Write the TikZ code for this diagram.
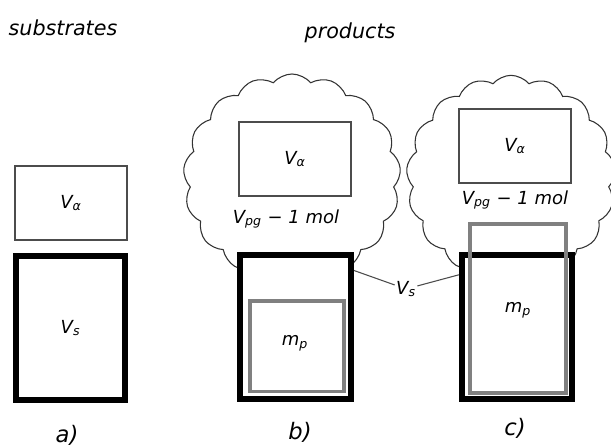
\documentclass[tikz,border=0pt]{standalone}
\usepackage{fontspec}
\setmainfont{DejaVu Sans}
\usetikzlibrary{shapes.symbols}

\tikzset{
  lbl/.style={font=\itshape\fontsize{13.5}{14}\selectfont},
  title/.style={font=\itshape\fontsize{15.5}{16}\selectfont},
  tag/.style={font=\itshape\fontsize{17}{18}\selectfont},
  gasbox/.style={draw=black!70, line width=0.9pt, fill=white,
    minimum width=84pt, minimum height=55.5pt, lbl},
  solidbox/.style={draw=black, line width=4.5pt, fill=white,
    minimum width=82.5pt, minimum height=108pt, lbl},
  prodbox/.style={draw=black!50, line width=2.5pt, outer sep=0pt, lbl},
  puff/.style={cloud, draw=black!80, line width=0.8pt, cloud puffs=17,
    cloud puff arc=100, fill=white},
  link/.style={draw=black!70, line width=0.8pt},
}

\begin{document}
\begin{tikzpicture}[x=0.75pt, y=-0.75pt]
\useasboundingbox (0,0) rectangle (611,448);

% headings
\node[title] (sub) at (63,28) {substrates};
\node[title] (prod) at (350,33) {products};

% a) substrates
\node[gasbox] (ga) at (71,203) {V\textsubscript{α}};
\node[solidbox, minimum width=81.75pt] (sa) at (70.5,328) {V\textsubscript{s}};
\node[tag] (ta) at (67,435) {a)};

% gas clouds behind the products
\node[puff, minimum width=163pt, minimum height=156pt] (cb) at (292,178) {};
\node[puff, minimum width=157pt, minimum height=154pt] (cc) at (511,178) {};

% b) product fits inside the solid
\node[gasbox] (gb) at (295,159) {V\textsubscript{α}};
\node[lbl] (nb) at (286,219) {V\textsubscript{pg} − 1 mol};
\node[solidbox, minimum width=83.25pt] (sb) at (295.5,327) {};
\node[prodbox, minimum width=70.5pt, minimum height=68pt] (pb) at (297,346.5) {};
\node[lbl] (mb) at (295,343) {m\textsubscript{p}};
\node[tag] (tb) at (300,432) {b)};

% c) product grows out of the solid
\node[gasbox] (gc) at (515,146) {V\textsubscript{α}};
\node[lbl] (nc) at (515,200) {V\textsubscript{pg} − 1 mol};
\node[prodbox, fill=white, minimum width=72pt, minimum height=126.75pt] (pc) at (518,308.5) {};
\node[solidbox] (sc) at (517,327) {};
\draw[draw=black!50, line width=2.5pt] (pc.north west) rectangle (pc.south east);
\node[lbl] (mc) at (518,310) {m\textsubscript{p}};
\node[tag] (tc) at (515,428) {c)};

% shared label for both solids
\node[lbl, inner sep=1pt] (vs) at (406,289) {V\textsubscript{s}};
\draw[link] (sb.44) -- (vs);
\draw[link] (vs) -- (sc.138);
\end{tikzpicture}
\end{document}
